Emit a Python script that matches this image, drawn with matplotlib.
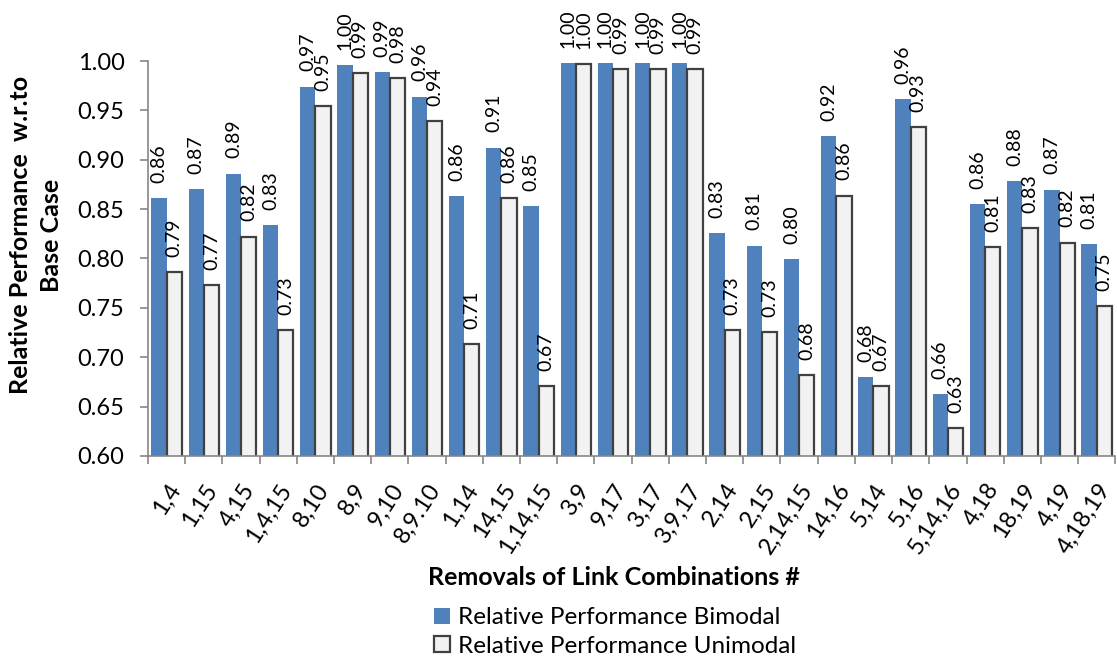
import matplotlib
matplotlib.use("Agg")
import matplotlib.pyplot as plt
import numpy as np
from matplotlib.patches import Patch

plt.rcParams["font.family"] = ["Lato", "DejaVu Sans"]

combos = ["1,4", "1,15", "4,15", "1,4,15", "8,10", "8,9", "9,10", "8,9.10",
          "1,14", "14,15", "1,14,15", "3,9", "9,17", "3,17", "3,9,17", "2,14",
          "2,15", "2,14,15", "14,16", "5,14", "5,16", "5,14,16", "4,18", "18,19",
          "4,19", "4,18,19"]
bimodal = [0.861, 0.8705, 0.886, 0.834, 0.974, 0.9957, 0.989, 0.964,
           0.8635, 0.9124, 0.8527, 0.998, 0.998, 0.998, 0.998, 0.826,
           0.8129, 0.799, 0.924, 0.6797, 0.9613, 0.6624, 0.8554, 0.878,
           0.8697, 0.8143]
unimodal = [0.786, 0.773, 0.822, 0.7275, 0.9546, 0.988, 0.983, 0.939,
            0.7134, 0.861, 0.6709, 0.9968, 0.992, 0.992, 0.992, 0.7275,
            0.7255, 0.6817, 0.8638, 0.6709, 0.9333, 0.6283, 0.8112, 0.831,
            0.816, 0.7515]

blue = "#4F81BD"
grey_fill = "#F2F2F2"
edge_dark = "#404040"
axis_grey = "#868686"

fig = plt.figure(figsize=(11.17, 6.64), dpi=100)
ax = fig.add_axes([0.1325, 0.3133, 0.866, 0.5948])

x = np.arange(len(combos))
w = 0.41
b1 = ax.bar(x, bimodal, width=-w, align="edge", color=blue, edgecolor="none")
b2 = ax.bar(x, unimodal, width=w, align="edge", color=grey_fill,
            edgecolor=edge_dark, linewidth=1.6)

# value labels sit above each bar, reading upwards
for bars, vals in [(b1, bimodal), (b2, unimodal)]:
    for r, v in zip(bars, vals):
        ax.annotate(f"{v:.2f}", (r.get_x() + r.get_width() / 2, v),
                    xytext=(0, 11), textcoords="offset points",
                    rotation=90, ha="center", va="bottom", fontsize=14,
                    annotation_clip=False)

ax.set_ylim(0.6, 1.0)
ax.set_xlim(-0.5, len(combos) - 0.5)
yt = np.arange(0.6, 1.001, 0.05)
ax.set_yticks(yt)
ax.set_yticklabels([f"{t:.2f}" for t in yt], fontsize=17)

ax.set_xticks(x)
ax.set_xticklabels(combos, rotation=57, ha="right", va="top",
                   rotation_mode="anchor", fontsize=17)
ax.tick_params(axis="x", which="major", length=0, pad=17)
# tick marks fall on the category boundaries
ax.set_xticks(np.arange(-0.5, len(combos), 1.0), minor=True)
ax.tick_params(axis="x", which="minor", length=6, width=1.2, color=axis_grey)
ax.tick_params(axis="y", length=6, width=1.2, color=axis_grey, pad=11)

for s in ["top", "right"]:
    ax.spines[s].set_visible(False)
for s in ["left", "bottom"]:
    ax.spines[s].set_color(axis_grey)
    ax.spines[s].set_linewidth(1.2)

fig.text(0.032, 0.646, "Relative Performance  w.r.to\nBase Case", rotation=90,
         ha="center", va="center", multialignment="center",
         fontsize=18, fontweight="bold", linespacing=1.4)
fig.text(0.55, 0.131, "Removals of Link Combinations #", ha="center",
         va="center", fontsize=18, fontweight="bold")

handles = [Patch(facecolor=blue, edgecolor="none"),
           Patch(facecolor=grey_fill, edgecolor=edge_dark, linewidth=1.6)]
fig.legend(handles, ["Relative Performance Bimodal", "Relative Performance Unimodal"],
           loc="center left", bbox_to_anchor=(0.378, 0.048), frameon=False,
           fontsize=17.5, handlelength=0.66, handleheight=0.66, handletextpad=0.3,
           labelspacing=0.3, borderpad=0)

fig.savefig("out.png", dpi=100)
